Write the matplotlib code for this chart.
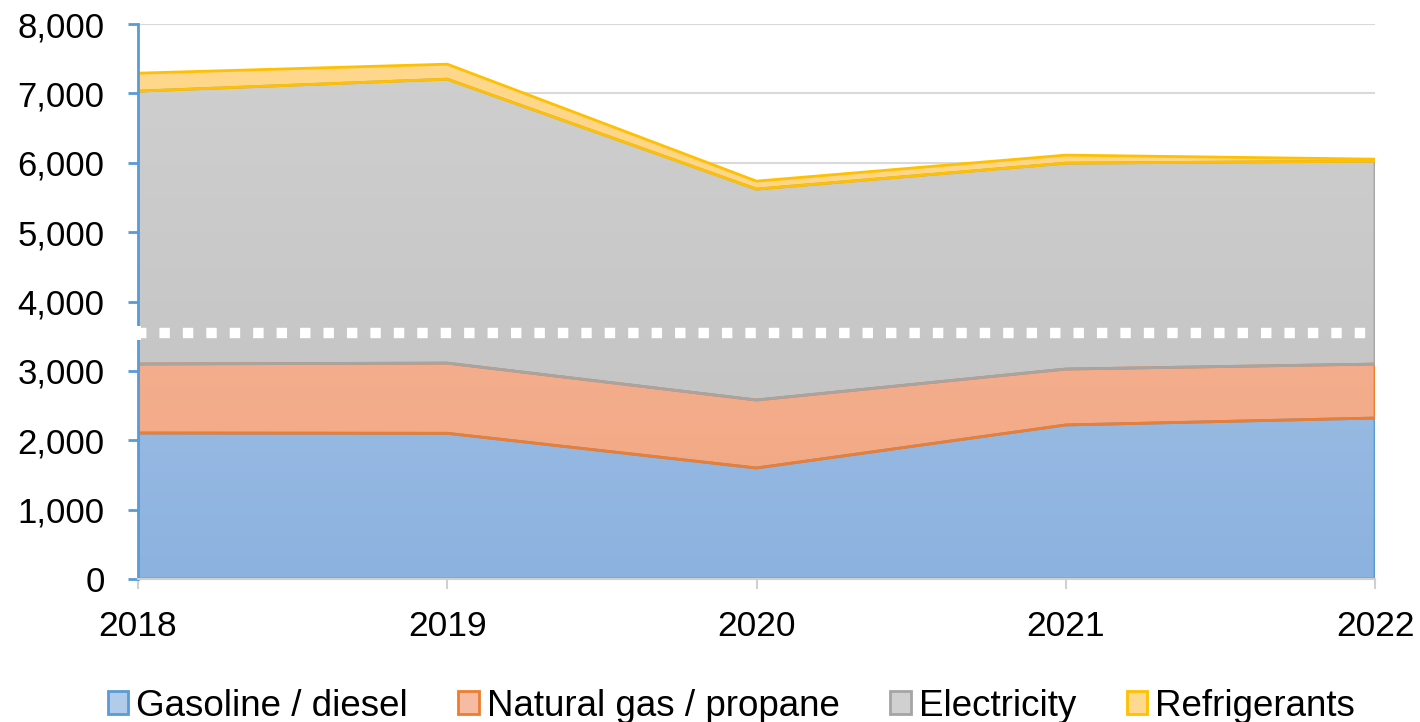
import numpy as np
import matplotlib
matplotlib.use("Agg")
import matplotlib.pyplot as plt
from matplotlib.colors import LinearSegmentedColormap
from matplotlib.patches import Rectangle

plt.rcParams['font.family'] = ['Liberation Sans', 'DejaVu Sans']

years = [2018, 2019, 2020, 2021, 2022]
gasoline = [2104, 2100, 1600, 2220, 2320]
natural_gas = [995, 1012, 980, 806, 778]
electricity = [3933, 4093, 3040, 2968, 2925]
refrigerants = [259, 216, 115, 116, 29]
series_names = ["Gasoline / diesel", "Natural gas / propane", "Electricity", "Refrigerants"]
y_ticks = [0, 1000, 2000, 3000, 4000, 5000, 6000, 7000, 8000]
break_value = 3545

edge_colors = ["#5B9BD5", "#ED7D31", "#A5A5A5", "#FFC000"]
grad_top = ["#B0CCEA", "#F6BCA3", "#D0D0D0", "#FFD98F"]
grad_bot = ["#8CB2DF", "#F2A57F", "#C0C0C0", "#FFCC70"]

fig = plt.figure(figsize=(14.2, 7.22), dpi=100)
ax = fig.add_axes([138/1420, 1-579/722, (1375-138)/1420, (579-24)/722])

x = np.array(years, dtype=float)
layers = [gasoline, natural_gas, electricity, refrigerants]
base = np.zeros(len(x))
handles = []
for i, vals in enumerate(layers):
    top = base + np.array(vals, dtype=float)
    poly = ax.fill_between(x, base, top, facecolor="none", edgecolor=edge_colors[i],
                           linewidth=2.0, zorder=3 + i * 0.1)
    cmap = LinearSegmentedColormap.from_list(f"g{i}", [grad_bot[i], grad_top[i]])
    grad = np.linspace(0, 1, 256).reshape(-1, 1)
    im = ax.imshow(grad, cmap=cmap, origin="lower", aspect="auto",
                   extent=[x[0], x[-1], 0, 8000], zorder=2 + i * 0.1)
    path = poly.get_paths()[0]
    im.set_clip_path(path, transform=ax.transData)
    handles.append(Rectangle((0, 0), 1, 1, facecolor=grad_top[i], edgecolor=edge_colors[i], linewidth=2))
    base = top

ax.set_xlim(2018, 2022)
ax.set_ylim(0, 8000)
ax.set_yticks(y_ticks)
ax.set_yticklabels([f"{v:,}" for v in y_ticks])
ax.set_xticks(years)
ax.set_xticklabels([str(y) for y in years])
ax.grid(axis="y", color="#D9D9D9", linewidth=1.5, zorder=0)
ax.set_axisbelow(True)

for s in ["top", "right"]:
    ax.spines[s].set_visible(False)
ax.spines["left"].set_color("#5B9BD5")
ax.spines["left"].set_linewidth(2)
ax.spines["left"].set_zorder(6)
ax.spines["bottom"].set_color("#D0D0D0")
ax.spines["bottom"].set_linewidth(1.5)
ax.spines["bottom"].set_zorder(6)
ax.tick_params(axis="y", colors="#5B9BD5", length=7, width=2, labelsize=25, labelcolor="black", pad=17)
ax.tick_params(axis="x", colors="#D0D0D0", length=7, width=1.5, labelsize=25.5, labelcolor="black", pad=15)

# axis break marker
ax.plot([x[0] - 0.005, x[-1]], [break_value, break_value], color="white", linewidth=7.5,
        linestyle=(0, (1, 1.25)), solid_capstyle="butt", dash_capstyle="butt", zorder=7, clip_on=False)
ax.add_patch(Rectangle((x[0] - 0.01, break_value - 100), 0.02, 200, facecolor="white",
                       edgecolor="none", zorder=7, clip_on=False))

fig.legend(handles, series_names, loc="center", bbox_to_anchor=(0.515, 1 - 706/722), ncol=4,
           frameon=False, fontsize=26.5, handlelength=0.55, handleheight=0.55,
           handletextpad=0.22, columnspacing=1.38, borderpad=0, borderaxespad=0)

fig.savefig("out.png", dpi=100)
